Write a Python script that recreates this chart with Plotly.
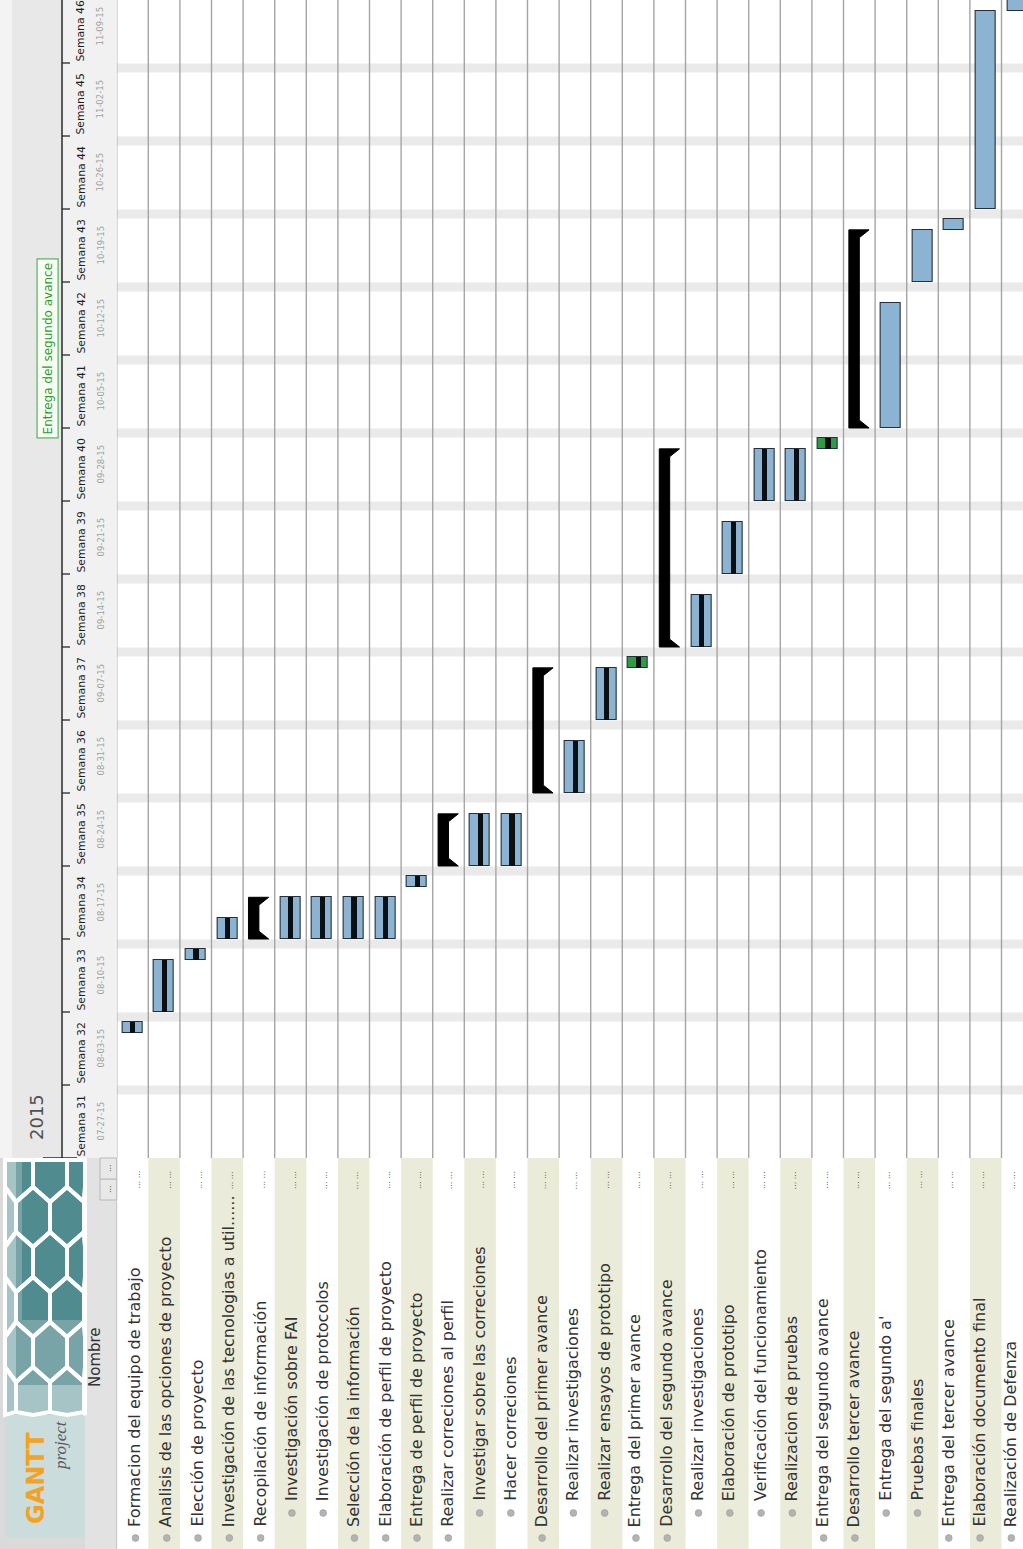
import plotly.graph_objects as go
import pandas as pd

W, H = 1023, 1549

# ---------------- data ----------------
tasks = [
    "Formacion del equipo de trabajo",
    "Analisis de las opciones de proyecto",
    "Elección de proyecto",
    "Investigación de las tecnologias a util......",
    "Recopilación de información",
    "Investigación sobre FAI",
    "Investigación de protocolos",
    "Selección de la información",
    "Elaboración de perfil de proyecto",
    "Entrega de perfil de proyecto",
    "Realizar correciones al perfil",
    "Investigar sobre las correciones",
    "Hacer correciones",
    "Desarrollo del primer avance",
    "Realizar investigaciones",
    "Realizar ensayos de prototipo",
    "Entrega del primer avance",
    "Desarrollo del segundo avance",
    "Realizar investigaciones",
    "Elaboración de prototipo",
    "Verificación del funcionamiento",
    "Realizacion de pruebas",
    "Entrega del segundo avance",
    "Desarrollo tercer avance",
    "Entrega del segundo a'",
    "Pruebas finales",
    "Entrega del tercer avance",
    "Elaboración documento final",
    "Realización de Defenza",
]
levels = [0, 0, 0, 0, 0, 1, 1, 0, 0, 0, 0, 1, 1, 0, 1, 1, 0, 0, 1, 1, 1, 1, 0, 0, 1, 1, 0, 0, 0]
starts = ["2015-08-08", "2015-08-10", "2015-08-15", "2015-08-17", "2015-08-17", "2015-08-17",
          "2015-08-17", "2015-08-17", "2015-08-17", "2015-08-22", "2015-08-24", "2015-08-24",
          "2015-08-24", "2015-08-31", "2015-08-31", "2015-09-07", "2015-09-12", "2015-09-14",
          "2015-09-14", "2015-09-21", "2015-09-28", "2015-09-28", "2015-10-03", "2015-10-05",
          "2015-10-05", "2015-10-19", "2015-10-24", "2015-10-26", "2015-11-14"]
ends = ["2015-08-09", "2015-08-15", "2015-08-16", "2015-08-19", "2015-08-21", "2015-08-21",
        "2015-08-21", "2015-08-21", "2015-08-21", "2015-08-23", "2015-08-29", "2015-08-29",
        "2015-08-29", "2015-09-12", "2015-09-05", "2015-09-12", "2015-09-13", "2015-10-03",
        "2015-09-19", "2015-09-26", "2015-10-03", "2015-10-03", "2015-10-04", "2015-10-24",
        "2015-10-17", "2015-10-24", "2015-10-25", "2015-11-14", "2015-11-16"]
kinds = ["task", "task", "task", "task", "summary", "task", "task", "task", "task", "task",
         "summary", "task", "task", "summary", "task", "task", "milestone", "summary", "task",
         "task", "task", "task", "milestone", "summary", "task", "task", "task", "task", "task"]
completed = [1, 1, 1, 1, 0, 1, 1, 1, 1, 1, 0, 1, 1, 0, 1, 1, 1, 0, 1, 1, 1, 1, 1, 0, 0, 0, 0, 0, 0]

year_label = "2015"
week_labels = ["Semana 31", "Semana 32", "Semana 33", "Semana 34", "Semana 35", "Semana 36",
               "Semana 37", "Semana 38", "Semana 39", "Semana 40", "Semana 41", "Semana 42",
               "Semana 43", "Semana 44", "Semana 45", "Semana 46"]
week_dates = ["07-27-15", "08-03-15", "08-10-15", "08-17-15", "08-24-15", "08-31-15",
              "09-07-15", "09-14-15", "09-21-15", "09-28-15", "10-05-15", "10-12-15",
              "10-19-15", "10-26-15", "11-02-15", "11-09-15"]
timeline_label = "Entrega del segundo avance"
timeline_task = 22
name_header = "Nombre"

# ---------------- helpers ----------------
def xp(px):
    return px / W

def yp(py):
    return 1 - py / H

ROW0_LEFT = 116.7
ROW_W = 31.6
CHART_BOTTOM = 1158
x_range = [-0.5, (W - ROW0_LEFT) / ROW_W - 0.5]
y_range = ["2015-07-27", "2015-11-15 01:00"]

n = len(tasks)
idx = list(range(n))
s_dt = pd.to_datetime(starts)
e_dt = pd.to_datetime(ends)
dur_ms = [(e - s).total_seconds() * 1000 for s, e in zip(s_dt, e_dt)]

fig = go.Figure()

BAR_W = 0.63
for kind, color in (("task", "#8cb3d1"), ("milestone", "#2e9b46")):
    sel = [i for i in idx if kinds[i] == kind]
    fig.add_trace(go.Bar(
        x=sel, y=[dur_ms[i] for i in sel], base=[starts[i] for i in sel],
        width=BAR_W, marker=dict(color=color, line=dict(color="#23303c", width=1.1)),
        hoverinfo="skip"))
sel = [i for i in idx if completed[i] and kinds[i] != "summary"]
fig.add_trace(go.Bar(
    x=sel, y=[dur_ms[i] for i in sel], base=[starts[i] for i in sel],
    width=0.16, marker=dict(color="#0a0f14", line=dict(width=0)), hoverinfo="skip"))

# summary brackets
hook = pd.Timedelta(hours=18)
sx, sy = [], []
for i in idx:
    if kinds[i] != "summary":
        continue
    s, e = s_dt[i], e_dt[i]
    pts = [(i - 0.33, s), (i + 0.31, s), (i + 0.0, s + hook), (i + 0.0, e - hook),
           (i + 0.31, e), (i - 0.33, e), (i - 0.33, s)]
    for px_, py_ in pts:
        sx.append(px_)
        sy.append(py_.strftime("%Y-%m-%d %H:%M"))
    sx.append(None)
    sy.append(None)
fig.add_trace(go.Scatter(x=sx, y=sy, mode="lines", fill="toself", fillcolor="#000000",
                         line=dict(color="#000000", width=1), hoverinfo="skip"))

shapes = []
annotations = []

# ---------------- chart background: sunday bands, row separators ----------------
mondays = [pd.to_datetime(d, format="%m-%d-%y") for d in week_dates]
sundays = [m - pd.Timedelta(days=1) for m in mondays[1:]] + [mondays[-1] + pd.Timedelta(days=6)]
for su in sundays:
    shapes.append(dict(type="rect", xref="paper", yref="y", x0=xp(ROW0_LEFT), x1=1,
                       y0=(su + pd.Timedelta(hours=2)).strftime("%Y-%m-%d %H:%M"),
                       y1=(su + pd.Timedelta(hours=23)).strftime("%Y-%m-%d %H:%M"),
                       fillcolor="#eaeaea", line=dict(width=0), layer="below"))
for i in range(-1, n):
    shapes.append(dict(type="line", xref="x", yref="paper", x0=i + 0.5, x1=i + 0.5,
                       y0=yp(CHART_BOTTOM), y1=1, line=dict(color="#a5a5a5", width=1.4),
                       layer="below"))

# ---------------- header (left strip) ----------------
shapes += [
    dict(type="rect", xref="paper", yref="paper", x0=0, x1=xp(12), y0=yp(CHART_BOTTOM), y1=1,
         fillcolor="#f3f3f3", line=dict(width=0)),
    dict(type="rect", xref="paper", yref="paper", x0=xp(12), x1=xp(62), y0=yp(CHART_BOTTOM), y1=1,
         fillcolor="#e8e8e8", line=dict(width=0)),
    dict(type="rect", xref="paper", yref="paper", x0=xp(62), x1=xp(ROW0_LEFT), y0=yp(CHART_BOTTOM), y1=1,
         fillcolor="#f1f1f1", line=dict(width=0)),
    dict(type="line", xref="paper", yref="paper", x0=xp(62), x1=xp(62), y0=yp(CHART_BOTTOM), y1=1,
         line=dict(color="#2a2a2a", width=1.5)),
    dict(type="line", xref="paper", yref="y", x0=xp(43), x1=xp(77), y0=y_range[0], y1=y_range[0],
         line=dict(color="#2a2a2a", width=1.5)),
]
for m in mondays[1:]:
    shapes.append(dict(type="line", xref="paper", yref="y", x0=xp(62), x1=xp(70),
                       y0=m.strftime("%Y-%m-%d"), y1=m.strftime("%Y-%m-%d"),
                       line=dict(color="#2a2a2a", width=1.3)))
for lab, d, m in zip(week_labels, week_dates, mondays):
    annotations.append(dict(text=lab, xref="paper", yref="y", x=xp(81),
                            y=m.strftime("%Y-%m-%d"), xanchor="center", yanchor="bottom",
                            textangle=-90, showarrow=False, borderpad=0, yshift=0,
                            font=dict(family="DejaVu Sans", size=10.8, color="#1e1e1e")))
    annotations.append(dict(text=d, xref="paper", yref="y", x=xp(100),
                            y=(m + pd.Timedelta(hours=84)).strftime("%Y-%m-%d %H:%M"),
                            xanchor="center", yanchor="middle", textangle=-90, showarrow=False,
                            font=dict(family="DejaVu Sans", size=8.5, color="#a0a0a0")))
annotations.append(dict(text=year_label, xref="paper", yref="y", x=xp(36), y=y_range[0],
                        xanchor="center", yanchor="bottom", textangle=-90, showarrow=False,
                        yshift=16, font=dict(family="DejaVu Sans", size=18, color="#505050")))
annotations.append(dict(text=timeline_label, xref="paper", yref="y", x=xp(48),
                        y=ends[timeline_task], xanchor="center", yanchor="bottom",
                        textangle=-90, showarrow=False, bordercolor="#3aa63a", borderwidth=1,
                        borderpad=3, bgcolor="#f6fdf4",
                        font=dict(family="DejaVu Sans", size=12, color="#2f9a2f")))

# ---------------- task name table ----------------
TABLE_TOP = CHART_BOTTOM
shapes.append(dict(type="rect", xref="paper", yref="paper", x0=xp(ROW0_LEFT), x1=1,
                   y0=0, y1=yp(TABLE_TOP), fillcolor="#ffffff", line=dict(width=0)))
for i in idx:
    if i % 2 == 1:
        shapes.append(dict(type="rect", xref="x", yref="paper", x0=i - 0.5, x1=i + 0.5,
                           y0=0, y1=yp(TABLE_TOP), fillcolor="#eaebd8", line=dict(width=0)))
for i in idx:
    drift = 2 - 0.32 * i          # slight horizontal drift of the scanned name table
    by = 1538 if levels[i] == 0 else 1513
    cx = i + (drift + 1) / ROW_W
    shapes.append(dict(type="circle", xref="x", yref="paper",
                       x0=cx - 3.4 / ROW_W, x1=cx + 3.4 / ROW_W,
                       y0=yp(by + 3.4), y1=yp(by - 3.4),
                       fillcolor="#b3b3b3", line=dict(color="#9c9c9c", width=0.6)))
    ty = 1528 if levels[i] == 0 else 1502
    annotations.append(dict(text=tasks[i], xref="x", yref="paper", x=i, y=yp(ty),
                            xshift=drift, xanchor="center", yanchor="bottom", textangle=-90,
                            showarrow=False, borderpad=0,
                            font=dict(family="DejaVu Sans", size=16, color="#333333")))
    annotations.append(dict(text="... ...", xref="x", yref="paper", x=i, y=yp(1180),
                            xshift=drift + 2, xanchor="center", yanchor="middle", textangle=-90,
                            showarrow=False,
                            font=dict(family="DejaVu Sans", size=8, color="#555555")))

# header column: Nombre
shapes += [
    dict(type="rect", xref="paper", yref="paper", x0=xp(85), x1=xp(ROW0_LEFT), y0=0, y1=yp(TABLE_TOP),
         fillcolor="#e2e2e2", line=dict(width=0)),
    dict(type="rect", xref="paper", yref="paper", x0=xp(100), x1=xp(ROW0_LEFT), y0=yp(1200), y1=yp(1179),
         fillcolor="#e8e8e8", line=dict(color="#b8b8b8", width=1)),
    dict(type="rect", xref="paper", yref="paper", x0=xp(100), x1=xp(ROW0_LEFT), y0=yp(1179), y1=yp(TABLE_TOP),
         fillcolor="#e8e8e8", line=dict(color="#b8b8b8", width=1)),
    dict(type="line", xref="paper", yref="paper", x0=xp(ROW0_LEFT), x1=xp(ROW0_LEFT), y0=0, y1=yp(TABLE_TOP),
         line=dict(color="#c4c4c4", width=1)),
]
annotations.append(dict(text=name_header, xref="paper", yref="paper", x=xp(95), y=yp(1357),
                        xanchor="center", yanchor="middle", textangle=-90, showarrow=False,
                        font=dict(family="DejaVu Sans", size=15, color="#333333")))
for yy in (1168, 1189):
    annotations.append(dict(text="...", xref="paper", yref="paper", x=xp(108), y=yp(yy),
                            xanchor="center", yanchor="middle", textangle=-90, showarrow=False,
                            font=dict(family="DejaVu Sans", size=8, color="#444444")))

# logo block (decorative)
LX0, LX1, LY0, LY1 = 5, 85, TABLE_TOP + 2, 1537
HEX_BOTTOM = 1415
shapes += [
    dict(type="rect", xref="paper", yref="paper", x0=0, x1=xp(85), y0=0, y1=yp(TABLE_TOP),
         fillcolor="#dadada", line=dict(width=0)),
    dict(type="rect", xref="paper", yref="paper", x0=xp(LX0), x1=xp(LX1), y0=yp(LY1), y1=yp(LY0),
         fillcolor="#cbdcdd", line=dict(width=0)),
    dict(type="rect", xref="paper", yref="paper", x0=xp(LX0), x1=xp(LX1), y0=yp(HEX_BOTTOM), y1=yp(LY0),
         fillcolor="#a6c4c5", line=dict(width=0)),
    dict(type="rect", xref="paper", yref="paper", x0=xp(16), x1=xp(LX1), y0=yp(1385), y1=yp(LY0),
         fillcolor="#78a4a7", line=dict(width=0)),
    dict(type="rect", xref="paper", yref="paper", x0=xp(22), x1=xp(LX1), y0=yp(1320), y1=yp(LY0),
         fillcolor="#4f8b8f", line=dict(width=0)),
]
a, b = 17.0, 30.0
for r in range(6):
    cy = LY0 + 12 + r * 1.5 * b
    for c in range(-1, 4):
        cx = 16 + c * 2 * a + (a if r % 2 else 0)
        verts = [(cx, cy - b), (cx + a, cy - b / 2), (cx + a, cy + b / 2), (cx, cy + b),
                 (cx - a, cy + b / 2), (cx - a, cy - b / 2)]
        if min(v[1] for v in verts) > HEX_BOTTOM - 10 or max(v[0] for v in verts) < LX0 + 8:
            continue
        vv = [(min(max(vx, LX0), LX1), min(max(vy, LY0), HEX_BOTTOM)) for vx, vy in verts]
        p = "M " + " L ".join(f"{xp(vx):.5f},{yp(vy):.5f}" for vx, vy in vv) + " Z"
        shapes.append(dict(type="path", xref="paper", yref="paper", path=p,
                           line=dict(color="#ffffff", width=4)))
annotations.append(dict(text="<b>GANTT</b>", xref="paper", yref="paper", x=xp(36), y=yp(1478),
                        xanchor="center", yanchor="middle", textangle=-90, showarrow=False,
                        font=dict(family="DejaVu Sans", size=24, color="#f4a21f")))
annotations.append(dict(text="<i>project</i>", xref="paper", yref="paper", x=xp(60), y=yp(1445),
                        xanchor="center", yanchor="middle", textangle=-90, showarrow=False,
                        font=dict(family="Liberation Serif", size=17, color="#5a5a5a")))

fig.update_layout(
    width=W, height=H, autosize=False, margin=dict(l=0, r=0, t=0, b=0),
    paper_bgcolor="#ffffff", plot_bgcolor="#ffffff", showlegend=False,
    barmode="overlay", bargap=0,
    xaxis=dict(domain=[xp(ROW0_LEFT), 1], range=x_range, visible=False, fixedrange=True),
    yaxis=dict(domain=[yp(CHART_BOTTOM), 1], range=y_range, type="date", visible=False,
               fixedrange=True),
    shapes=shapes, annotations=annotations,
)

fig.write_html("out.html")
